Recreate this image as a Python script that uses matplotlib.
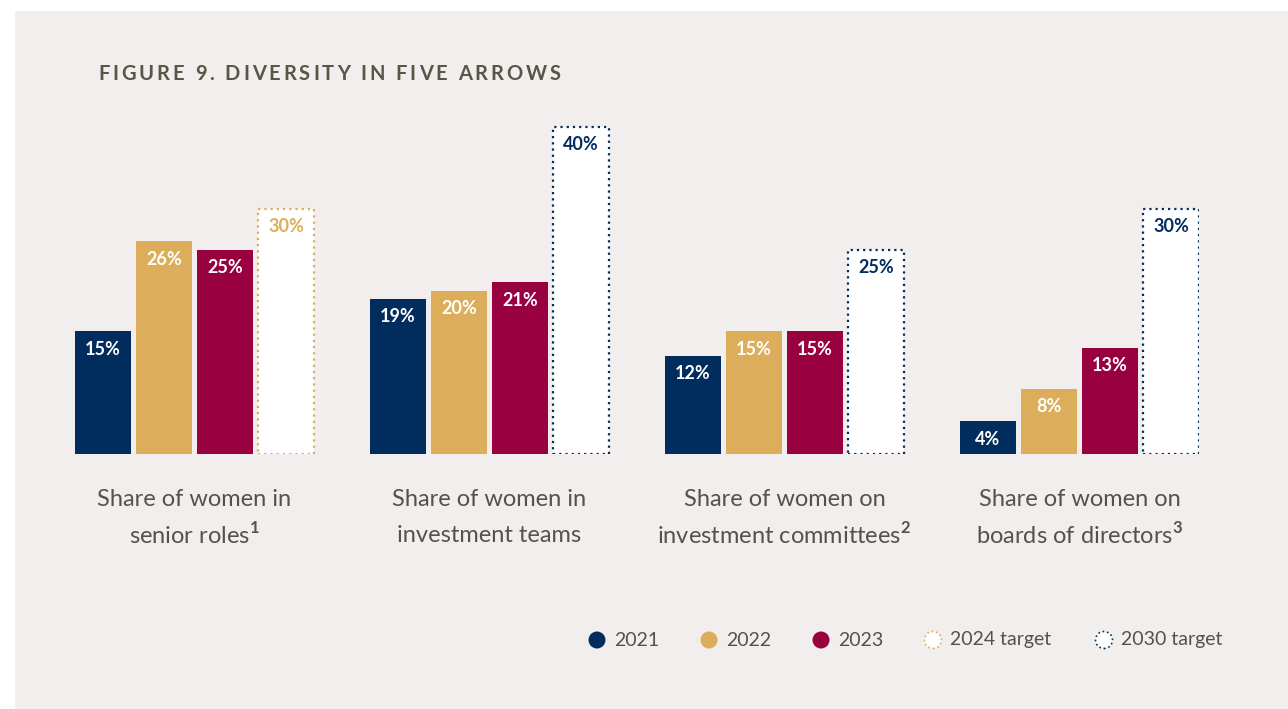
import numpy as np
import matplotlib
matplotlib.use("Agg")
import matplotlib.pyplot as plt
from matplotlib.patches import Rectangle, Ellipse

# data
categories = [["Share of women in", r"senior roles$^{\mathbf{1}}$"],
              ["Share of women in", "investment teams"],
              ["Share of women on", r"investment committees$^{\mathbf{2}}$"],
              ["Share of women on", r"boards of directors$^{\mathbf{3}}$"]]
series = ["2021", "2022", "2023", "2024 target", "2030 target"]
v2021 = [15, 19, 12, 4]
v2022 = [26, 20, 15, 8]
v2023 = [25, 21, 15, 13]
v2024_target = [30, None, None, None]
v2030_target = [None, 40, 25, 30]

navy = "#002d5d"
gold = "#dcad5a"
crimson = "#99003f"
bg = "#f2eeed"
grey = "#55524c"

plt.rcParams['font.family'] = ['Lato', 'DejaVu Sans']
plt.rcParams['mathtext.fontset'] = 'custom'
plt.rcParams['mathtext.rm'] = 'Lato'
plt.rcParams['mathtext.bf'] = 'Lato:bold'

W, H = 1288, 709
fig = plt.figure(figsize=(W / 100, H / 100), dpi=100, facecolor="white")
fig.patches.append(Rectangle((15 / W, 0), 1 - 15 / W, 1 - 11 / H,
                             transform=fig.transFigure, facecolor=bg,
                             edgecolor="none", zorder=-10))

# bar geometry: one unit = one bar step
px_unit = 61.0
group_gap = 295.0 / px_unit
bw = 56.0 / px_unit
x0_px, base_px, px_pct = 75.0, 454.0, 8.175
ymax = 42
n_units = 3 * group_gap + 3 + bw
ax = fig.add_axes([x0_px / W, 1 - base_px / H,
                   n_units * px_unit / W, ymax * px_pct / H])
ax.set_xlim(-bw / 2, 3 * group_gap + 3 + bw / 2)
ax.set_ylim(0, ymax)
ax.axis("off")

gx = np.arange(4) * group_gap

def value_label(x, v, color):
    ax.annotate(f"{v}%", (x, v), xytext=(0, -18), textcoords="offset pixels",
                ha="center", va="center", color=color, fontsize=13,
                fontweight="bold")

for i, (vals, col) in enumerate([(v2021, navy), (v2022, gold), (v2023, crimson)]):
    ax.bar(gx + i, vals, width=bw, color=col, linewidth=0)
    for x, v in zip(gx + i, vals):
        value_label(x, v, "white")

# target bars: white with dotted outline in series colour
for vals, col in [(v2024_target, gold), (v2030_target, navy)]:
    for x, v in zip(gx + 3, vals):
        if v is None:
            continue
        ax.bar(x, v, width=bw, color="white", edgecolor=col,
               linewidth=1.6, linestyle=(0, (1, 1.8)))
        value_label(x, v, col)

# category captions under each group
for g, (l1, l2) in enumerate(categories):
    xc = gx[g] + 1.5
    ax.annotate(l1, (xc, 0), xytext=(0, -45), textcoords="offset pixels",
                ha="center", va="center", fontsize=17, color=grey,
                annotation_clip=False)
    ax.annotate(l2, (xc, 0), xytext=(0, -81), textcoords="offset pixels",
                ha="center", va="center", fontsize=17, color=grey,
                annotation_clip=False)

# spaced-out title
renderer = fig.canvas.get_renderer()
tx = 98
for ch in "FIGURE 9. DIVERSITY IN FIVE ARROWS":
    t = fig.text(tx / W, 1 - 74 / H, ch, fontsize=14.5, fontweight="bold",
                 color="#5a5547", va="center", ha="left")
    tx += t.get_window_extent(renderer).width + 2.9

# legend
leg_x = [597, 709, 821, 933, 1104]
leg_y = 1 - 640 / H
leg_style = [(navy, navy, "-"), (gold, gold, "-"), (crimson, crimson, "-"),
             ("white", gold, ":"), ("white", navy, ":")]
r = 8.5
for lx, name, (fc, ec, ls) in zip(leg_x, series, leg_style):
    fig.patches.append(Ellipse((lx / W, leg_y), 2 * r / W, 2 * r / H,
                               transform=fig.transFigure, facecolor=fc,
                               edgecolor=ec, linestyle=ls,
                               linewidth=1.2 if ls == ":" else 0))
    fig.text((lx + 17) / W, leg_y, name, fontsize=14, color=grey,
             va="center", ha="left")

fig.savefig("out.png", dpi=100, facecolor="white")
